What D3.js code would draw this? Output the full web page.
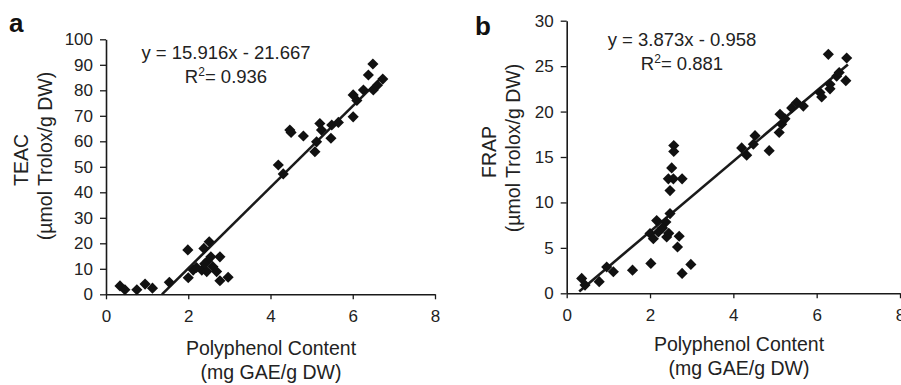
<!DOCTYPE html>
<html>
<head>
<meta charset="utf-8">
<script src="https://cdn.jsdelivr.net/npm/d3@7"></script>
<style>
  body { margin: 0; background: #fff; }
  svg { display: block; font-family: "Liberation Sans", Arial, sans-serif; }
</style>
</head>
<body>
<div id="container"></div>
<script>
// panel a: TEAC vs polyphenol content
const teacX = [0.34, 0.46, 0.75, 0.95, 1.13, 1.54, 1.99, 2.0, 2.12, 2.38, 2.51, 2.55, 2.33, 2.45, 2.6, 2.69, 2.77, 2.77, 2.97, 2.47, 2.2, 2.4,
    4.19, 4.31, 4.47, 4.5, 4.8, 5.08, 5.12, 5.2, 5.24, 5.49, 5.47, 5.65, 6.01, 6.49, 6.38, 6.73, 6.01, 6.26, 6.5, 6.1, 6.6];
const teacY = [3.3, 1.8, 1.8, 4.0, 2.4, 4.7, 17.4, 6.5, 9.5, 18.0, 20.6, 14.7, 9.5, 8.9, 10.8, 8.9, 14.7, 5.3, 6.7, 13.0, 10.5, 12.0,
    50.7, 47.2, 64.4, 63.5, 62.1, 55.9, 59.8, 67.0, 64.4, 66.4, 61.2, 67.4, 69.6, 90.3, 86.0, 84.4, 78.2, 80.1, 80.1, 76.0, 82.0];

// panel b: FRAP vs polyphenol content
const frapX = [0.36, 0.44, 0.78, 0.96, 1.12, 1.58, 2.02, 2.0, 2.08, 2.16, 2.2, 2.4, 2.38, 2.48, 2.48, 2.44, 2.56, 2.52, 2.57, 2.57, 2.77, 2.7, 2.66, 2.77, 2.98, 2.3, 2.45,
    4.2, 4.32, 4.48, 4.52, 4.86, 5.1, 5.16, 5.24, 5.12, 5.52, 5.68, 5.4, 6.08, 6.12, 6.28, 6.32, 6.48, 6.54, 6.72, 6.7, 6.32];
const frapY = [1.64, 0.9, 1.28, 2.9, 2.37, 2.55, 3.29, 6.58, 6.0, 8.0, 6.75, 6.2, 7.85, 8.77, 11.3, 12.6, 12.6, 13.8, 16.26, 15.6, 12.6, 6.28, 5.1, 2.19, 3.18, 7.2, 6.6,
    16.0, 15.2, 16.4, 17.35, 15.7, 17.7, 18.6, 19.2, 19.7, 21.0, 20.6, 20.4, 22.1, 21.6, 26.3, 23.0, 23.9, 24.3, 25.9, 23.4, 22.5];

const xTicks = [0, 2, 4, 6, 8];
const teacTicks = [0, 10, 20, 30, 40, 50, 60, 70, 80, 90, 100];
const frapTicks = [0, 5, 10, 15, 20, 25, 30];

// regression lines: slope, intercept, x range drawn
const teacFit = { m: 15.916, b: -21.667, from: 1.361, to: 6.75, eq: "y = 15.916x - 21.667", r2: "0.936" };
const frapFit = { m: 3.873, b: -0.958, from: 0.3, to: 6.75, eq: "y = 3.873x - 0.958", r2: "0.881" };

const W = 901, H = 385;
const INK = "#1a1a1a";

const svg = d3.select("#container").append("svg")
    .attr("width", W)
    .attr("height", H);

// one scatter panel
function panel(opt) {
    const x = d3.scaleLinear().domain([0, 8]).range([opt.x0, opt.x1]);
    const y = d3.scaleLinear().domain([0, opt.yMax]).range([opt.y0, opt.y1]);
    const g = svg.append("g");

    // x axis
    const gx = g.append("g")
        .attr("transform", `translate(0,${opt.y0})`)
        .call(d3.axisBottom(x).tickValues(xTicks).tickSize(5).tickPadding(11).tickSizeOuter(0));
    // y axis
    const gy = g.append("g")
        .attr("transform", `translate(${opt.x0},0)`)
        .call(d3.axisLeft(y).tickValues(opt.ticks).tickSize(6).tickPadding(7).tickSizeOuter(0));
    [gx, gy].forEach(a => {
        a.select(".domain").attr("stroke", INK).attr("stroke-width", 1.6);
        a.selectAll(".tick line").attr("stroke", INK).attr("stroke-width", 1.3);
        a.selectAll(".tick text")
            .attr("fill", "#222")
            .style("font-size", "17px")
            .style("font-family", "'Liberation Sans', Arial, sans-serif");
    });

    // trend line
    const f = opt.fit;
    g.append("line")
        .attr("x1", x(f.from)).attr("y1", y(f.m * f.from + f.b))
        .attr("x2", x(f.to)).attr("y2", y(f.m * f.to + f.b))
        .attr("stroke", INK)
        .attr("stroke-width", 2.6);

    // diamonds
    const sym = d3.symbol().type(d3.symbolSquare).size(62);
    g.selectAll("path.pt")
        .data(opt.xs.map((v, i) => [v, opt.ys[i]]))
        .enter()
        .append("path")
        .attr("class", "pt")
        .attr("d", sym)
        .attr("transform", d => `translate(${x(d[0])},${y(d[1])}) rotate(45)`)
        .attr("fill", "#111");

    // equation
    g.append("text")
        .attr("x", opt.eqX).attr("y", opt.eqY)
        .attr("text-anchor", "middle")
        .attr("fill", "#222")
        .style("font-size", "18.5px")
        .text(f.eq);
    const r = g.append("text")
        .attr("x", opt.eqX).attr("y", opt.eqY + 24)
        .attr("text-anchor", "middle")
        .attr("fill", "#222")
        .style("font-size", "18.5px");
    r.append("tspan").text("R");
    r.append("tspan").attr("dy", -7).style("font-size", "12px").text("2");
    r.append("tspan").attr("dy", 7).text("= " + f.r2);

    // panel letter
    g.append("text")
        .attr("x", opt.lx).attr("y", opt.ly)
        .attr("fill", "#111")
        .style("font-size", "26px")
        .style("font-weight", "bold")
        .text(opt.letter);

    // y title
    opt.yTitle.forEach((t, i) => {
        g.append("text")
            .attr("transform", `translate(${opt.ytX[i]},${opt.ytY[i]}) rotate(-90)`)
            .attr("text-anchor", "middle")
            .attr("fill", "#222")
            .style("font-size", "19.5px")
            .text(t);
    });

    // x title
    ["Polyphenol Content", "(mg GAE/g DW)"].forEach((t, i) => {
        g.append("text")
            .attr("x", opt.xtX)
            .attr("y", opt.xtY + i * 24)
            .attr("text-anchor", "middle")
            .attr("fill", "#222")
            .style("font-size", "19.5px")
            .text(t);
    });
}

panel({
    letter: "a", lx: 9, ly: 32,
    x0: 106, x1: 435, y0: 294.3, y1: 39.3, yMax: 100, ticks: teacTicks,
    xs: teacX, ys: teacY, fit: teacFit, eqX: 226, eqY: 59,
    yTitle: ["TEAC", "(µmol Trolox/g DW)"], ytX: [28, 52], ytY: [160, 156],
    xtX: 271, xtY: 355
});

panel({
    letter: "b", lx: 475, ly: 35,
    x0: 566.7, x1: 900, y0: 293.3, y1: 20.7, yMax: 30, ticks: frapTicks,
    xs: frapX, ys: frapY, fit: frapFit, eqX: 682, eqY: 46,
    yTitle: ["FRAP", "(µmol Trolox/g DW)"], ytX: [496, 520], ytY: [152, 148],
    xtX: 739, xtY: 351
});
</script>
</body>
</html>
